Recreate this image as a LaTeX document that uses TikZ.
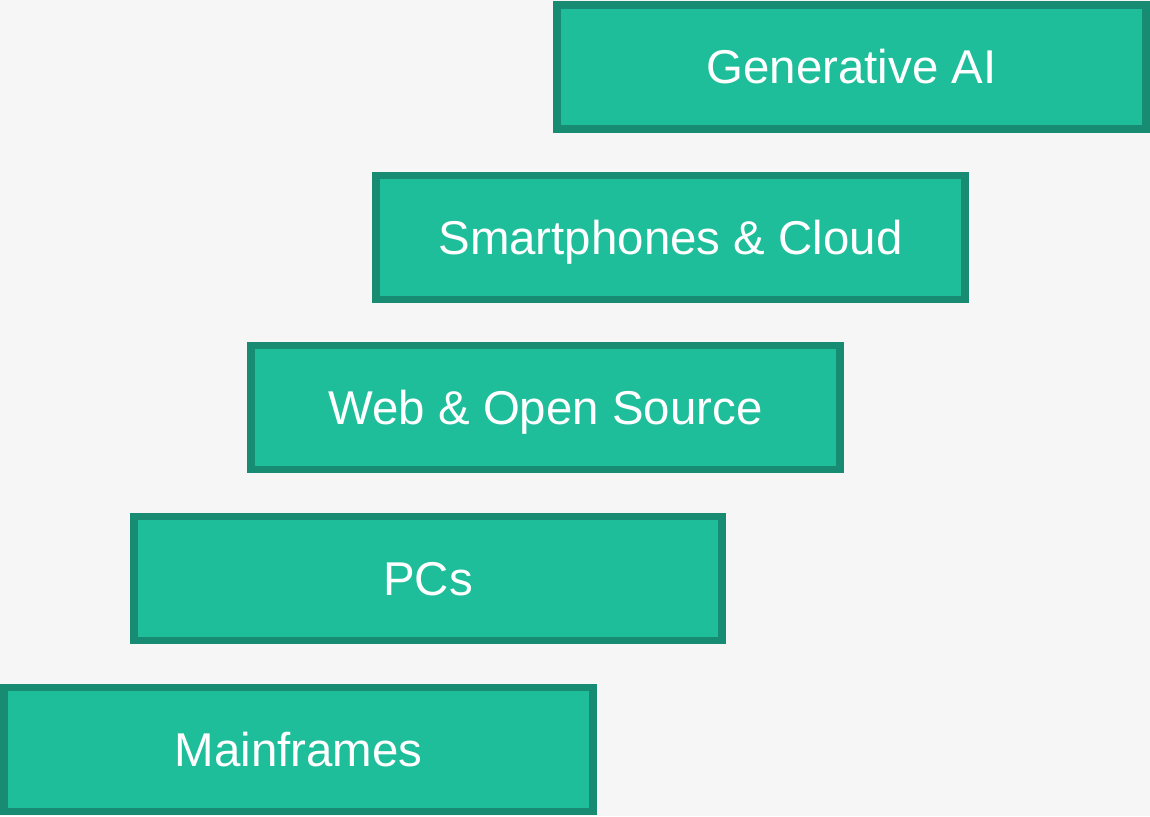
\documentclass[tikz,border=0pt]{standalone}
\usepackage{fontspec}
\setmainfont{Liberation Sans}
\usepackage{tikz}
\usetikzlibrary{positioning}

\definecolor{eraFill}{RGB}{30,190,155}
\definecolor{eraLine}{RGB}{23,140,115}
\definecolor{pageBg}{RGB}{246,246,246}

\tikzset{
    era/.style={rectangle, fill=eraFill, draw=eraLine, line width=4.5pt,
        minimum width=11.78cm, minimum height=2.48cm, inner sep=0pt,
        text height=19.3pt, text depth=0pt,
        text=white, font=\fontsize{27}{32}\selectfont}
}

\begin{document}
\begin{tikzpicture}[x=0.02cm, y=0.02cm]
    % Background
    \fill[pageBg] (0,0) rectangle (1150,816);
    \useasboundingbox (0,0) rectangle (1150,816);

    % Staircase of eras, oldest at the bottom
    \node[era] (mainframes) at (298.5,66.5) {Mainframes};
    \node[era] (pcs) at (428,237.5) {PCs};
    \node[era] (web) at (545.5,408.5) {Web \& Open Source};
    \node[era] (mobile) at (670.5,578.5) {Smartphones \& Cloud};
    \node[era] (genai) at (851.5,749) {Generative AI};
\end{tikzpicture}
\end{document}
